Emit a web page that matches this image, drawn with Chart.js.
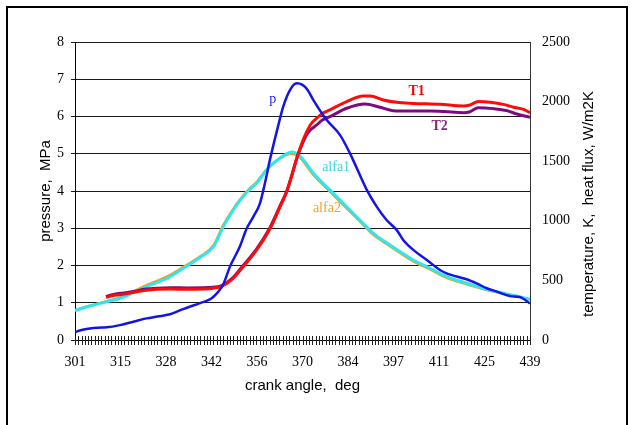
<!DOCTYPE html>
<html>
<head>
<meta charset="utf-8">
<title>crank angle</title>
<script src="https://cdn.jsdelivr.net/npm/chart.js@4.4.1/dist/chart.umd.min.js"></script>
<style>
  html, body { margin: 0; padding: 0; background: #fff; overflow: hidden; }
  #frame { position: absolute; left: 6px; top: 6px; width: 618px; height: 440px; border: 2px solid #000; }
  #myChart { position: absolute; left: 0; top: 0; }
</style>
</head>
<body>
<div id="frame"></div>
<canvas id="myChart" width="632" height="425"></canvas>
<script>

// crank angle tick labels
let xLabels = ['301', '315', '328', '342', '356', '370', '384', '397', '411', '425', '439'];

// cylinder pressure, MPa
let pAngle = [301, 303, 305.5, 308, 310.6, 314.6, 318.7, 322.7, 326, 329.8, 333.8, 338.9, 341.9, 343, 344.5, 346, 348, 351, 353.1, 355.1, 357.1, 358.6, 360.1, 362.2, 364.2, 366.2, 368.2, 370, 371.5, 373.3, 377.3, 381.4, 384.4, 389.5, 392.5, 395.5, 398.6, 400.6, 403.6, 407.7, 411.7, 413.7, 419.8, 422.8, 425.9, 429, 432.9, 436, 439];
let pValue = [0.21, 0.27, 0.31, 0.33, 0.34, 0.40, 0.49, 0.58, 0.63, 0.69, 0.83, 0.99, 1.09, 1.16, 1.30, 1.50, 1.97, 2.51, 3.00, 3.31, 3.67, 4.21, 4.83, 5.60, 6.28, 6.71, 6.89, 6.85, 6.72, 6.44, 5.91, 5.50, 5.01, 4.03, 3.58, 3.22, 2.95, 2.68, 2.42, 2.15, 1.88, 1.79, 1.63, 1.52, 1.39, 1.30, 1.18, 1.15, 0.98];

// gas temperature T1, K
let t1Angle = [310.4, 313, 316, 319.7, 322, 325.8, 330, 335, 339.9, 343, 345, 347, 349, 352, 356.1, 360.2, 363.2, 365.3, 368.7, 370, 371.3, 372.5, 374.3, 376, 378.3, 383.4, 388.4, 390.5, 394.5, 398.6, 403.6, 411.7, 418.8, 420.8, 423.3, 426.9, 430.9, 434, 437, 439];
let t1Value = [358, 375, 385, 405, 415, 425, 428, 425, 428, 435, 447, 475, 518, 615, 755, 937, 1118, 1250, 1562, 1665, 1748, 1810, 1860, 1900, 1930, 2000, 2047, 2047, 2014, 1994, 1985, 1977, 1963, 1972, 2000, 1994, 1977, 1952, 1935, 1907];

// gas temperature T2, K
let t2Angle = [310.4, 313, 316, 319.7, 322, 325.8, 330, 335, 339.9, 343, 345, 347, 349, 352, 356.1, 360.2, 363.2, 365.3, 368.7, 370, 371.3, 372.5, 374.3, 376, 378.3, 383.4, 389, 393.5, 397.5, 403, 408.7, 413, 418.8, 420.8, 423.3, 427.9, 432, 435, 439];
let t2Value = [365, 385, 395, 412, 425, 435, 438, 437, 438, 443, 452, 480, 525, 625, 765, 947, 1125, 1255, 1560, 1650, 1725, 1765, 1804, 1845, 1874, 1944, 1980, 1952, 1924, 1921, 1921, 1917, 1907, 1915, 1949, 1941, 1924, 1896, 1868];

// heat transfer coefficient alfa1, W/m2K
let a1Angle = [301, 305.5, 310.6, 314.6, 318.7, 322.7, 329.8, 333.8, 338.9, 343, 346, 349, 352, 354, 356.1, 359.1, 361.2, 363.2, 365, 366.7, 369.2, 373.3, 378.3, 383.4, 387.4, 391.5, 395.5, 399.6, 403.6, 408.7, 413.7, 419.8, 425.9, 431.9, 436, 439];
let a1Value = [248, 285, 321, 350, 397, 447, 531, 601, 692, 783, 951, 1091, 1205, 1265, 1318, 1426, 1483, 1527, 1560, 1578, 1545, 1399, 1259, 1118, 1007, 895, 816, 741, 671, 602, 531, 476, 425, 386, 362, 341];

// heat transfer coefficient alfa2, W/m2K
let a2Angle = [301, 305.5, 310.6, 314.6, 318.7, 322.7, 329.8, 333.8, 338.9, 343, 346, 349, 352, 354, 356.1, 359.1, 361.2, 363.2, 365, 366.7, 369.2, 373.3, 378.3, 383.4, 387.4, 391.5, 395.5, 399.6, 403.6, 408.7, 413.7, 419.8, 425.9, 431.9, 436, 439];
let a2Value = [250, 288, 325, 356, 408, 460, 545, 612, 700, 795, 965, 1100, 1212, 1272, 1325, 1430, 1482, 1522, 1552, 1562, 1530, 1385, 1245, 1105, 995, 882, 805, 730, 660, 592, 522, 468, 420, 383, 360, 340];

// curve names written next to the lines: [text, angle, value, axis, colour, bold]
let notes = [
    ['p', 361, 6.45, 'y', '#2020e8', false],
    ['T1', 404.6, 2089, 'y2', '#ff0000', true],
    ['T2', 411.6, 1795, 'y2', '#8a2a78', true],
    ['alfa1', 380.2, 1451, 'y2', '#3cd6e0', false],
    ['alfa2', 377.4, 1107, 'y2', '#f7a020', false]
];

function pts(angles, values) {
    return angles.map(function (a, i) { return {x: a, y: values[i]}; });
}

let serif = 'Liberation Serif';
let sans = 'Liberation Sans';

// small ticks across the x axis, names of the curves, right axis title
let extras = {
    id: 'extras',
    afterDraw: function (chart) {
        let ctx = chart.ctx;
        let xs = chart.scales.x;
        let yr = chart.scales.y2;
        ctx.save();
        ctx.strokeStyle = '#222';
        ctx.lineWidth = 1;
        ctx.beginPath();
        for (let d = 301; d <= 439; d++) {
            let px = Math.round(xs.getPixelForValue(d)) + 0.5;
            ctx.moveTo(px, xs.top - 4);
            ctx.lineTo(px, xs.top + 5);
        }
        ctx.stroke();

        ctx.textAlign = 'center';
        ctx.textBaseline = 'middle';
        notes.forEach(function (n) {
            ctx.font = (n[5] ? 'bold ' : '') + '14px "' + serif + '"';
            ctx.fillStyle = n[4];
            ctx.fillText(n[0], xs.getPixelForValue(n[1]), chart.scales[n[3]].getPixelForValue(n[2]));
        });

        ctx.translate(yr.right - 43, (yr.top + yr.bottom) / 2 + 13);
        ctx.rotate(-Math.PI / 2);
        ctx.font = '15px "' + sans + '"';
        ctx.fillStyle = '#000';
        ctx.fillText('temperature, K,  heat flux, W/m2K', 0, 0);
        ctx.restore();
    }
};

let line = {pointRadius: 0, fill: false, cubicInterpolationMode: 'monotone'};

let ctx = document.getElementById('myChart').getContext('2d');
let config = {
    type: 'line',
    data: {
        datasets: [
            Object.assign({label: 'p', data: pts(pAngle, pValue), borderColor: '#1414e6', borderWidth: 2.5, yAxisID: 'y'}, line),
            Object.assign({label: 'T1', data: pts(t1Angle, t1Value), borderColor: '#ff0a0a', borderWidth: 3, yAxisID: 'y2'}, line),
            Object.assign({label: 'T2', data: pts(t2Angle, t2Value), borderColor: '#7d0a82', borderWidth: 3, yAxisID: 'y2'}, line),
            Object.assign({label: 'alfa1', data: pts(a1Angle, a1Value), borderColor: '#2de6f0', borderWidth: 3, yAxisID: 'y2'}, line),
            Object.assign({label: 'alfa2', data: pts(a2Angle, a2Value), borderColor: '#ff9a10', borderWidth: 2.5, yAxisID: 'y2'}, line)
        ]
    },
    options: {
        responsive: false,
        animation: false,
        layout: {padding: {top: 42, left: 0, right: 0, bottom: 0}},
        plugins: {legend: {display: false}, tooltip: {enabled: false}},
        scales: {
            x: {
                type: 'linear',
                min: 301,
                max: 439,
                afterBuildTicks: function (scale) {
                    scale.ticks = xLabels.map(function (l, i) {
                        return {value: 301 + i * (439 - 301) / (xLabels.length - 1)};
                    });
                },
                afterFit: function (scale) { scale.height = 85; },
                grid: {drawOnChartArea: false, drawTicks: false},
                border: {color: '#000', width: 1},
                ticks: {
                    autoSkip: false,
                    maxRotation: 0,
                    padding: 14,
                    color: '#000',
                    font: {family: serif, size: 14},
                    callback: function (v, i) { return xLabels[i]; }
                },
                title: {display: true, text: 'crank angle,  deg', color: '#000', font: {family: sans, size: 15}, padding: {top: 0, bottom: 30}}
            },
            y: {
                position: 'left',
                min: 0,
                max: 8,
                afterFit: function (scale) { scale.width = 75; },
                grid: {color: '#1a1a1a', lineWidth: 1, tickLength: 4},
                border: {color: '#000', width: 1},
                ticks: {stepSize: 1, padding: 7, color: '#000', font: {family: serif, size: 14}},
                title: {display: true, text: 'pressure,  MPa', color: '#000', font: {family: sans, size: 15}, padding: {top: 37, bottom: 0}}
            },
            y2: {
                position: 'right',
                min: 0,
                max: 2500,
                afterFit: function (scale) { scale.width = 102; },
                grid: {drawOnChartArea: false, drawTicks: false},
                border: {color: '#333', width: 1},
                ticks: {
                    stepSize: 500,
                    padding: 12,
                    color: '#000',
                    font: {family: serif, size: 14},
                    callback: function (v) { return String(v); }
                }
            }
        }
    },
    plugins: [extras]
};
window.myChart = new Chart(ctx, config);
</script>
</body>
</html>
